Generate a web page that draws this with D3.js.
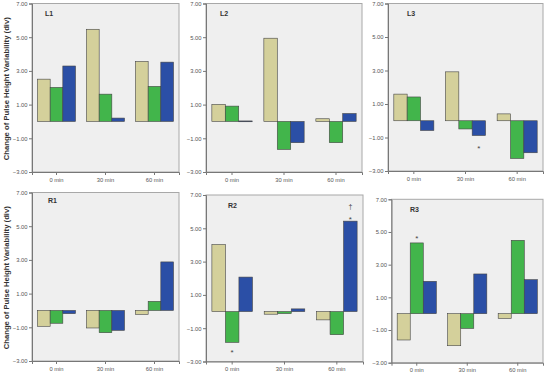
<!DOCTYPE html>
<html><head><meta charset="utf-8">
<script src="https://cdn.jsdelivr.net/npm/d3@7"></script>
<style>
html,body{margin:0;padding:0;background:#fff;}
svg{display:block;font-family:"Liberation Sans",Arial,sans-serif;}
</style></head>
<body><svg id="chart" width="546" height="377"></svg>
<script>
// ---- data ----
const categories = ["0 min", "30 min", "60 min"];
const seriesNames = ["tan", "green", "blue"];
const yTicks = [7, 5, 3, 1, -1, -3];
const panelNames = ["L1", "L2", "L3", "R1", "R2", "R3"];
// values per category: [tan, green, blue]
const valuesL1 = [[2.51, 2.02, 3.29], [5.47, 1.62, 0.20], [3.56, 2.08, 3.52]];
const valuesL2 = [[1.01, 0.91, 0.03], [4.94, -1.66, -1.26], [0.16, -1.26, 0.47]];
const valuesL3 = [[1.59, 1.42, -0.58], [2.92, -0.49, -0.88], [0.41, -2.25, -1.91]];
const valuesR1 = [[-0.94, -0.76, -0.19], [-1.04, -1.32, -1.18], [-0.23, 0.54, 2.88]];
const valuesR2 = [[4.02, -1.85, 2.07], [-0.16, -0.12, 0.16], [-0.50, -1.39, 5.43]];
const valuesR3 = [[-1.61, 4.33, 1.98], [-1.96, -0.90, 2.43], [-0.29, 4.49, 2.08]];
// annotations: [panel, category index, series index, value, symbol]
const annotations = [
  ["L3", 1, 2, -1.55, "*"],
  ["R2", 0, 1, -2.35, "*"],
  ["R2", 2, 2, 5.66, "*"],
  ["R2", 2, 2, 6.30, "†"],
  ["R3", 0, 1, 4.71, "*"]
];
const yTitle = "Change of Pulse Height Variability (div)";

const panelValues = {L1: valuesL1, L2: valuesL2, L3: valuesL3, R1: valuesR1, R2: valuesR2, R3: valuesR3};
const colors = {tan: "#d4d09b", green: "#42b54b", blue: "#2b4fa6"};

// layout boxes [left, right, top, bottom]
const boxes = {
  L1: [32, 179, 3.5, 172],
  L2: [206, 362, 3.5, 172],
  L3: [388, 543, 3.5, 171],
  R1: [32, 179, 192.5, 361],
  R2: [206, 363, 195, 361.5],
  R3: [391.5, 543, 199.3, 362.7]
};
const labelPos = {L1: [45, 16], L2: [220, 16], L3: [407, 16], R1: [48, 203], R2: [228, 208], R3: [410, 212]};

const svg = d3.select("#chart");

const scales = {};
panelNames.forEach(name => {
  const [x0, x1, y0, y1] = boxes[name];
  const g = svg.append("g");
  const x = d3.scaleBand().domain(categories).range([x0, x1]).padding(0);
  const xs = d3.scaleBand().domain(seriesNames).range([0, x.bandwidth() * 0.775]);
  const y = d3.scaleLinear().domain([-3, 7]).range([y1, y0]);
  scales[name] = {x, xs, y};
  const inset = x.bandwidth() * (1 - 0.775) / 2;

  g.append("rect").attr("x", x0).attr("y", y0).attr("width", x1 - x0).attr("height", y1 - y0)
    .attr("fill", "#efefef").attr("stroke", "#a8a8a8").attr("stroke-width", 1);

  // y axis
  const ya = g.append("g").attr("transform", `translate(${x0},0)`)
    .call(d3.axisLeft(y).tickValues(yTicks).tickFormat(d3.format(".2f")).tickSize(3).tickPadding(1.5));
  ya.select(".domain").attr("stroke", "#777");
  ya.selectAll(".tick line").attr("stroke", "#777");
  ya.selectAll("text").attr("font-size", 5.8).attr("fill", "#555").attr("font-family", "Liberation Sans, Arial, sans-serif");

  // x axis
  const xa = g.append("g").attr("transform", `translate(0,${y1})`)
    .call(d3.axisBottom(x).tickSize(3).tickPadding(2.5));
  xa.select(".domain").attr("stroke", "#777");
  xa.selectAll(".tick line").attr("stroke", "#777");
  xa.selectAll("text").attr("font-size", 5.8).attr("fill", "#555").attr("font-family", "Liberation Sans, Arial, sans-serif");

  // bars
  const vals = panelValues[name];
  categories.forEach((c, ci) => {
    seriesNames.forEach((s, si) => {
      const v = vals[ci][si];
      g.append("rect")
        .attr("x", x(c) + inset + xs(s))
        .attr("width", xs.bandwidth())
        .attr("y", y(Math.max(0, v)))
        .attr("height", Math.max(0.8, Math.abs(y(v) - y(0))))
        .attr("fill", colors[s])
        .attr("stroke", "#444").attr("stroke-width", 0.6);
    });
  });

  g.append("text").attr("x", labelPos[name][0]).attr("y", labelPos[name][1])
    .attr("font-size", 7).attr("font-weight", "bold").attr("fill", "#333").text(name);
});

// annotations
annotations.forEach(([p, ci, si, v, sym]) => {
  const {x, xs, y} = scales[p];
  const inset = x.bandwidth() * (1 - 0.775) / 2;
  svg.append("text")
    .attr("x", x(categories[ci]) + inset + xs(seriesNames[si]) + xs.bandwidth() / 2)
    .attr("y", y(v))
    .attr("dy", sym === "*" ? "0.55em" : "0.35em")
    .attr("text-anchor", "middle")
    .attr("font-size", sym === "*" ? 8 : 7).attr("fill", "#444").text(sym);
});

// y axis titles
["L1", "R1"].forEach(p => {
  const [x0, x1, y0, y1] = boxes[p];
  const cy = (y0 + y1) / 2 + 1;
  svg.append("text").attr("transform", `translate(9,${cy}) rotate(-90)`)
    .attr("text-anchor", "middle").attr("font-size", 7.7).attr("font-weight", "bold")
    .attr("fill", "#333").text(yTitle);
});
</script></body></html>
